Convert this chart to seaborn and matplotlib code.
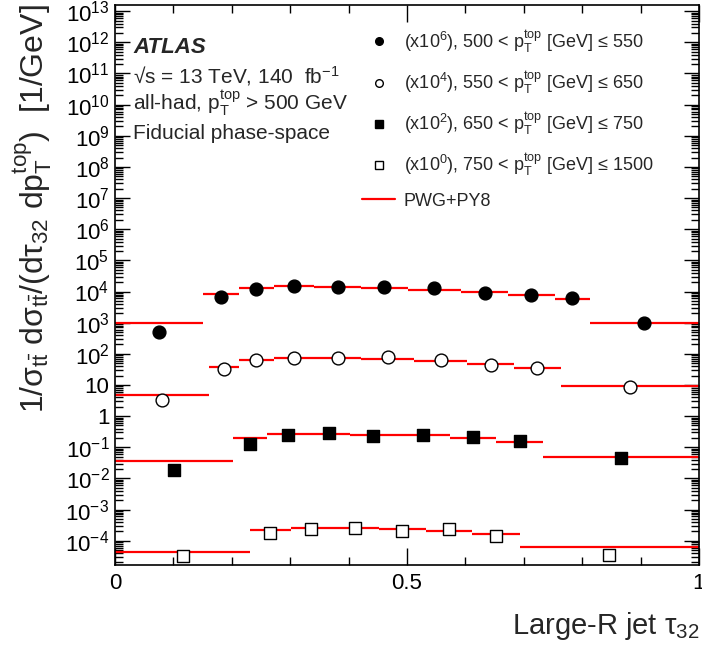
import numpy as np
import pandas as pd
import matplotlib
matplotlib.use("Agg")
import matplotlib.pyplot as plt
import seaborn as sns
from matplotlib.lines import Line2D
from matplotlib.ticker import FixedLocator, FuncFormatter, LogLocator, NullFormatter, MultipleLocator

# ---------------- data (values as displayed, already scaled) ----------------
# series 1: 500 < pT <= 550 GeV (x1e6)
edges_1 = [0.0, 0.151, 0.2115, 0.2715, 0.341, 0.4215, 0.501, 0.593, 0.673, 0.753, 0.813, 1.0]
data_1 = [492, 6840, 12100, 15100, 13700, 14300, 12700, 9190, 7930, 6070, 1000]
model_1 = [957, 8170, 12700, 15400, 14300, 13300, 11500, 9460, 7580, 5770, 1000]

# series 2: 550 < pT <= 650 GeV (x1e4)
edges_2 = [0.0, 0.161, 0.212, 0.2715, 0.341, 0.4215, 0.512, 0.603, 0.683, 0.763, 1.0]
data_2 = [3.30, 31.9, 62.1, 73.6, 73.6, 77.5, 62.1, 44.9, 35.2, 8.8]
model_2 = [4.78, 37.8, 62.1, 73.6, 71.9, 66.8, 60.3, 46.2, 35.9, 9.5]

# series 3: 650 < pT <= 750 GeV (x1e2)
edges_3 = [0.0, 0.202, 0.261, 0.3325, 0.402, 0.483, 0.573, 0.653, 0.733, 1.0]
data_3 = [0.0187, 0.128, 0.243, 0.281, 0.236, 0.243, 0.214, 0.159, 0.0444]
model_3 = [0.0356, 0.203, 0.261, 0.273, 0.254, 0.239, 0.194, 0.148, 0.0478]

# series 4: 750 < pT <= 1500 GeV (x1e0)
edges_4 = [0.0, 0.2315, 0.301, 0.371, 0.4515, 0.532, 0.612, 0.693, 1.0]
data_4 = [3.24e-5, 1.73e-4, 2.44e-4, 2.62e-4, 2.06e-4, 2.44e-4, 1.42e-4, 3.49e-5]
model_4 = [4.35e-5, 2.21e-4, 2.62e-4, 2.62e-4, 2.38e-4, 2.10e-4, 1.68e-4, 6.17e-5]

legend_labels = [
    r"(x10$^{6}$), 500 < $\mathrm{p}_{\mathrm{T}}^{\mathrm{top}}$ [GeV] ≤ 550",
    r"(x10$^{4}$), 550 < $\mathrm{p}_{\mathrm{T}}^{\mathrm{top}}$ [GeV] ≤ 650",
    r"(x10$^{2}$), 650 < $\mathrm{p}_{\mathrm{T}}^{\mathrm{top}}$ [GeV] ≤ 750",
    r"(x10$^{0}$), 750 < $\mathrm{p}_{\mathrm{T}}^{\mathrm{top}}$ [GeV] ≤ 1500",
]
model_label = "PWG+PY8"
y_decades = list(range(-4, 14))

# ---------------- style ----------------
sns.set_style("ticks")
plt.rcParams["font.family"] = ["Liberation Sans", "DejaVu Sans"]
plt.rcParams["mathtext.fontset"] = "custom"
plt.rcParams["mathtext.rm"] = "Liberation Sans"
plt.rcParams["mathtext.it"] = "Liberation Sans"
plt.rcParams["mathtext.bf"] = "Liberation Sans:bold"
plt.rcParams["mathtext.sf"] = "Liberation Sans"

fig = plt.figure(figsize=(7.02, 6.5), dpi=100)
ax = fig.add_axes([115 / 702, 1 - 565 / 650, 584 / 702, 560 / 650])

series = [
    (edges_1, data_1, model_1, "o", "black"),
    (edges_2, data_2, model_2, "o", "white"),
    (edges_3, data_3, model_3, "s", "black"),
    (edges_4, data_4, model_4, "s", "white"),
]

for edges, data, model, mk, face in series:
    e = np.asarray(edges)
    centers = 0.5 * (e[:-1] + e[1:])
    df = pd.DataFrame({"tau32": centers, "value": data})
    ax.hlines(model, e[:-1], e[1:], colors="#ff0000", linewidth=1.6, zorder=2)
    sns.scatterplot(data=df, x="tau32", y="value", marker=mk, s=85 if mk == "o" else 80,
                    color=face, edgecolor="black", linewidth=1.0, ax=ax, zorder=3,
                    legend=False)

ax.set_yscale("log")
ax.set_xlim(0, 1)
ax.set_ylim(1.66e-5, 1.58e13)

# ticks
ax.xaxis.set_major_locator(FixedLocator([0, 0.5, 1.0]))
ax.xaxis.set_major_formatter(FuncFormatter(lambda v, p: {0: "0", 0.5: "0.5", 1.0: "1"}.get(round(v, 2), "")))
ax.xaxis.set_minor_locator(MultipleLocator(0.1))

def ylab(v, p):
    n = int(round(np.log10(v)))
    if n == 0:
        return "1"
    if n == 1:
        return "10"
    return r"$10^{%d}$" % n

ax.yaxis.set_major_locator(FixedLocator([10.0 ** k for k in y_decades]))
ax.yaxis.set_major_formatter(FuncFormatter(ylab))
ax.yaxis.set_minor_locator(LogLocator(base=10, subs=np.arange(2, 10), numticks=100))
ax.yaxis.set_minor_formatter(NullFormatter())

ax.tick_params(which="both", direction="in", top=True, right=True, colors="black", width=1.0)
ax.tick_params(axis="x", which="major", length=12, labelsize=16, pad=6)
ax.tick_params(axis="x", which="minor", length=6)
ax.tick_params(axis="y", which="major", length=11, labelsize=16, pad=4)
ax.tick_params(axis="y", which="minor", length=6)
for sp in ax.spines.values():
    sp.set_color("black")
    sp.set_linewidth(1.2)

# axis labels
ax.set_ylabel("")
ax.set_xlabel(r"Large-R jet $\tau_{32}$", fontsize=21, loc="right")
ax.xaxis.set_label_coords(1.0, -0.08)
fig.text(33 / 702, 1 - 4 / 650,
         r"$1/\sigma_{\mathrm{t\bar{t}}}\ \mathrm{d}\sigma_{\mathrm{t\bar{t}}}/(\mathrm{d}\tau_{32}\ \mathrm{dp}_{\mathrm{T}}^{\mathrm{top}})$  [1/GeV]",
         rotation=90, ha="center", va="top", fontsize=23)

# ATLAS label
tx = (133 - 115) / 584
ax.text(tx, (565 - 53) / 560, "ATLAS", transform=ax.transAxes, fontsize=16,
        fontweight="bold", fontstyle="italic", va="baseline")
ax.text(tx, (565 - 83) / 560, r"√s = 13 TeV, 140  fb$^{-1}$", transform=ax.transAxes,
        fontsize=15, va="baseline")
ax.text(tx, (565 - 111) / 560, r"all-had, $\mathrm{p}_{\mathrm{T}}^{\mathrm{top}}$ > 500 GeV",
        transform=ax.transAxes, fontsize=15, va="baseline")
ax.text(tx, (565 - 139) / 560, "Fiducial phase-space", transform=ax.transAxes,
        fontsize=15, va="baseline")

# legend
handles = [
    Line2D([], [], marker="o", linestyle="none", markersize=5.5, markerfacecolor="black", markeredgecolor="black"),
    Line2D([], [], marker="o", linestyle="none", markersize=5.5, markerfacecolor="white", markeredgecolor="black"),
    Line2D([], [], marker="s", linestyle="none", markersize=5.5, markerfacecolor="black", markeredgecolor="black"),
    Line2D([], [], marker="s", linestyle="none", markersize=5.5, markerfacecolor="white", markeredgecolor="black"),
    Line2D([], [], color="#ff0000", linewidth=1.6),
]
ax.legend(handles, legend_labels + [model_label], loc="upper left",
          bbox_to_anchor=((362 - 115) / 584, (565 - 28) / 560), frameon=False,
          fontsize=13, handlelength=1.85, handletextpad=0.45, labelspacing=0.8,
          borderpad=0, borderaxespad=0)

fig.savefig("out.png", dpi=100)
